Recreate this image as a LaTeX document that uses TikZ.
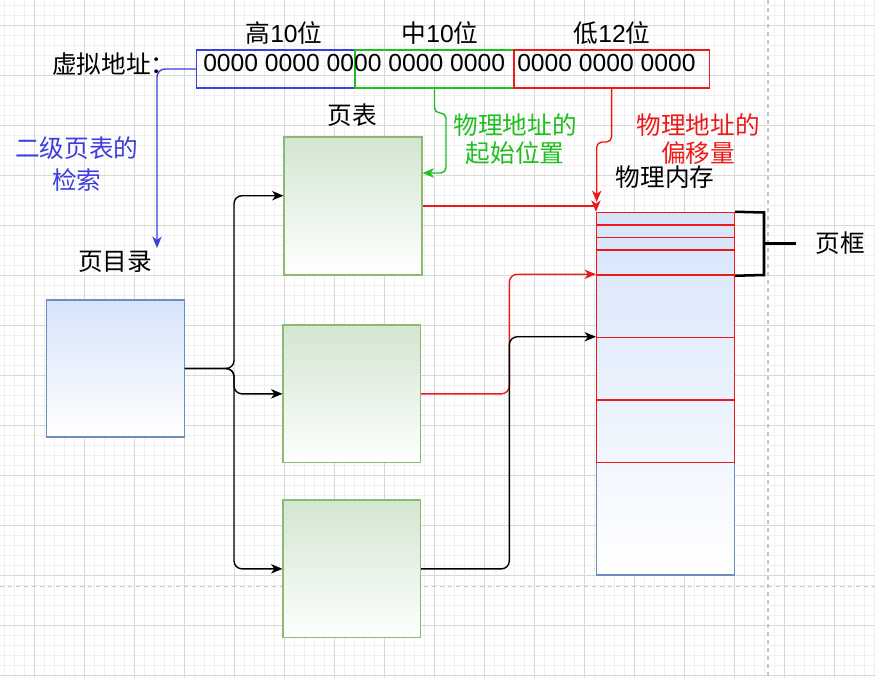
\documentclass[tikz,border=0pt]{standalone}
\usepackage{fontspec}
\setmainfont{Liberation Sans}
\newfontfamily\cjk{Noto Sans CJK SC}
\usetikzlibrary{arrows.meta,fit}
\definecolor{gridminor}{HTML}{EFEFEF}
\definecolor{gridmajor}{HTML}{D8D8D8}
\definecolor{dashgray}{HTML}{C4C4C4}
\definecolor{pblue}{HTML}{3D3DE0}
\definecolor{pgreen}{HTML}{1FBF1F}
\definecolor{pred}{HTML}{EE1A1A}
\definecolor{bluefill}{HTML}{D6E4FA}
\definecolor{bluestroke}{HTML}{6C8EBF}
\definecolor{greenfill}{HTML}{D2E6D0}
\definecolor{greenstroke}{HTML}{8DBA72}
\tikzset{
  txt/.style={inner sep=0pt, font=\fontsize{18.5}{22}\selectfont\cjk},
  bitstxt/.style={inner sep=0pt, font=\fontsize{18.5}{22}\selectfont},
  bluebox/.style={inner sep=0pt, draw=bluestroke, line width=0.8pt, top color=bluefill, bottom color=white},
  greenbox/.style={inner sep=0pt, draw=greenstroke, line width=0.8pt, top color=greenfill, bottom color=white},
  framebox/.style={inner sep=0pt, draw=pred, line width=1.1pt},
  fieldbox/.style={inner sep=0pt, line width=0.9pt},
  arr/.style={-{Stealth[length=8.5pt,width=7pt,inset=2.4pt]}, line width=1.05pt, rounded corners=6pt},
  gridmin/.style={gridminor, line width=0.5pt},
  gridmaj/.style={gridmajor, line width=0.7pt},
  dashln/.style={dashgray, line width=0.8pt, dash pattern=on 3pt off 3pt},
}
\begin{document}
\begin{tikzpicture}[x=0.75pt, y=-0.75pt]
\useasboundingbox (0,0) rectangle (875,678);
\fill[white] (0,0) rectangle (875,678);
% grid
\foreach \x in {4.3,14.3,...,874.3} \draw[gridmin] (\x,0) -- (\x,678);
\foreach \y in {5,15,...,675} \draw[gridmin] (0,\y) -- (875,\y);
\foreach \x in {34.3,84.3,...,834.3} \draw[gridmaj] (\x,0) -- (\x,678);
\foreach \y in {25,75,...,675} \draw[gridmaj] (0,\y) -- (875,\y);
\draw[dashln] (768,0) -- (768,678);
\draw[dashln] (0,586.7) -- (875,586.7);

% virtual address fields
\node[fieldbox, draw=pblue, fit={(196.7,50) (355,88)}] (hi) {};
\node[fieldbox, draw=pgreen, fit={(355,50) (514,88)}] (mid) {};
\node[fieldbox, draw=pred, fit={(514,50) (709.3,88)}] (low) {};
\node[bitstxt, anchor=base west] (bits1) at (203,71.7) {0000 0000 0000 0000 0000};
\node[bitstxt, anchor=base west] (bits2) at (517,71.7) {0000 0000 0000};

\node[txt] (lhi) at (284,33) {高\fontspec{Liberation Sans}10\cjk 位};
\node[txt] (lmid) at (440,33) {中\fontspec{Liberation Sans}10\cjk 位};
\node[txt] (llow) at (612,33) {低\fontspec{Liberation Sans}12\cjk 位};
\node[txt, anchor=west] (vaddr) at (52,64) {虚拟地址：};

% boxes
\node[bluebox, fit={(46.7,300) (184.3,437)}] (pd) {};
\node[greenbox, fit={(284,137) (422,275)}] (pt1) {};
\node[greenbox, fit={(283,325) (420.7,462.7)}] (pt2) {};
\node[greenbox, fit={(283,500) (420.7,637.7)}] (pt3) {};

% memory
\node[bluebox, fit={(596.7,212.5) (734.3,575)}] (mem) {};
\node[framebox, fit={(596.7,212.5) (734.3,225)}] (f1) {};
\node[framebox, fit={(596.7,225) (734.3,237.5)}] (f2) {};
\node[framebox, fit={(596.7,237.5) (734.3,250)}] (f3) {};
\node[framebox, fit={(596.7,250) (734.3,275)}] (f4) {};
\node[framebox, fit={(596.7,275) (734.3,337.5)}] (f5) {};
\node[framebox, fit={(596.7,337.5) (734.3,400)}] (f6) {};
\node[framebox, fit={(596.7,400) (734.3,462.5)}] (f7) {};

% labels
\node[txt] (lpt) at (352,115) {页表};
\node[txt] (lpd) at (115,262) {页目录};
\node[txt, text=pblue, align=center, font=\fontsize{18.5}{24}\selectfont\cjk] (lsearch) at (77,164) {二级页表的\\检索};
\node[txt, text=pgreen, align=center, font=\fontsize{18.5}{21}\selectfont\cjk] (lstart) at (515,139) {物理地址的\\起始位置};
\node[txt, text=pred, align=center, font=\fontsize{18.5}{21}\selectfont\cjk] (loff) at (698,139) {物理地址的\\偏移量};
\node[txt] (lmem) at (665,177) {物理内存};
\node[txt] (lframe) at (840,243) {页框};

% brace for page frame
\coordinate (brtop) at (764,212.5);
\coordinate (brbot) at (764,275);
\coordinate (brtick) at (795.7,243.7);
\draw[line width=1.9pt] (f1.north east) -- (brtop) -- (brbot) -- (f4.south east);
\draw[line width=1.9pt] (brtop |- brtick) -- (brtick);

% connectors
\coordinate (bluend) at (157,248);
\draw[arr, pblue] (hi.west) -| (bluend);

\draw[arr, pgreen, rounded corners=4pt] (mid.south) -- (434.5,113) -- (446,113) -- (446,173) -- (pt1.east |- 0,173);

\coordinate (redend) at (596.7,202);
\draw[arr, pred, rounded corners=4pt] (low.south) -- (611.65,142) -- (596.7,142) -- (redend);

\draw[arr, pred, rounded corners=0pt] (pt1.east) -| (f1.north west);
\draw[arr, pred] (pt2.east) -- (509.3,393.9) |- (f5.north west);
\draw[arr, black] (pt3.east) -- (509.3,568.9) |- (f6.north west);

\draw[arr, black] (pd.east) -- (234,368.5) |- (pt1.west |- 0,195.7);
\draw[arr, black] (pd.east) -- (234,368.5) |- (pt2.west);
\draw[arr, black] (pd.east) -- (234,368.5) |- (pt3.west);
\end{tikzpicture}
\end{document}
